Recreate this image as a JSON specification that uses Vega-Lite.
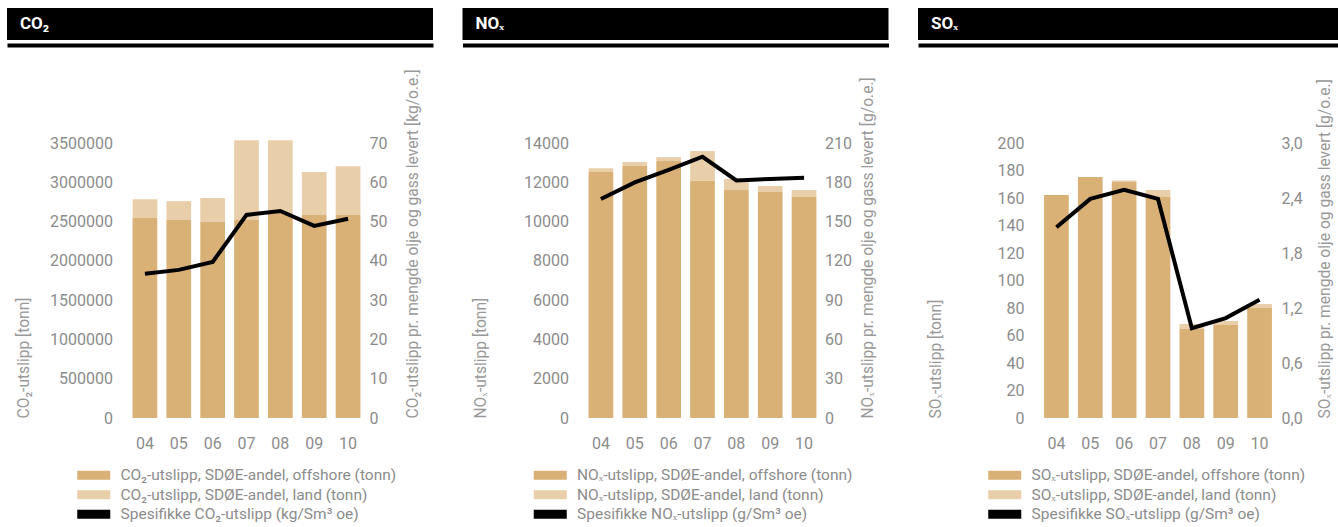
{
  "$schema": "https://vega.github.io/schema/vega-lite/v6.json",
  "padding": {"left": 7, "top": 8, "right": 0, "bottom": 0},
  "background": "white",
  "datasets": {
    "co2_utslipp": [
      {"år": "04", "serie": "CO₂-utslipp, SDØE-andel, offshore (tonn)", "tonn": 2545000},
      {"år": "05", "serie": "CO₂-utslipp, SDØE-andel, offshore (tonn)", "tonn": 2520000},
      {"år": "06", "serie": "CO₂-utslipp, SDØE-andel, offshore (tonn)", "tonn": 2495000},
      {"år": "07", "serie": "CO₂-utslipp, SDØE-andel, offshore (tonn)", "tonn": 2520000},
      {"år": "08", "serie": "CO₂-utslipp, SDØE-andel, offshore (tonn)", "tonn": 2610000},
      {"år": "09", "serie": "CO₂-utslipp, SDØE-andel, offshore (tonn)", "tonn": 2585000},
      {"år": "10", "serie": "CO₂-utslipp, SDØE-andel, offshore (tonn)", "tonn": 2585000},
      {"år": "04", "serie": "CO₂-utslipp, SDØE-andel, land (tonn)", "tonn": 240000},
      {"år": "05", "serie": "CO₂-utslipp, SDØE-andel, land (tonn)", "tonn": 240000},
      {"år": "06", "serie": "CO₂-utslipp, SDØE-andel, land (tonn)", "tonn": 305000},
      {"år": "07", "serie": "CO₂-utslipp, SDØE-andel, land (tonn)", "tonn": 1015000},
      {"år": "08", "serie": "CO₂-utslipp, SDØE-andel, land (tonn)", "tonn": 925000},
      {"år": "09", "serie": "CO₂-utslipp, SDØE-andel, land (tonn)", "tonn": 545000},
      {"år": "10", "serie": "CO₂-utslipp, SDØE-andel, land (tonn)", "tonn": 620000}
    ],
    "co2_spesifikk": [
      {"år": "04", "verdi": 36.7},
      {"år": "05", "verdi": 37.7},
      {"år": "06", "verdi": 39.7},
      {"år": "07", "verdi": 51.7},
      {"år": "08", "verdi": 52.7},
      {"år": "09", "verdi": 48.9},
      {"år": "10", "verdi": 50.7}
    ],
    "nox_utslipp": [
      {"år": "04", "serie": "NOₓ-utslipp, SDØE-andel, offshore (tonn)", "tonn": 12520},
      {"år": "05", "serie": "NOₓ-utslipp, SDØE-andel, offshore (tonn)", "tonn": 12830},
      {"år": "06", "serie": "NOₓ-utslipp, SDØE-andel, offshore (tonn)", "tonn": 13080},
      {"år": "07", "serie": "NOₓ-utslipp, SDØE-andel, offshore (tonn)", "tonn": 12070},
      {"år": "08", "serie": "NOₓ-utslipp, SDØE-andel, offshore (tonn)", "tonn": 11610},
      {"år": "09", "serie": "NOₓ-utslipp, SDØE-andel, offshore (tonn)", "tonn": 11500},
      {"år": "10", "serie": "NOₓ-utslipp, SDØE-andel, offshore (tonn)", "tonn": 11250},
      {"år": "04", "serie": "NOₓ-utslipp, SDØE-andel, land (tonn)", "tonn": 200},
      {"år": "05", "serie": "NOₓ-utslipp, SDØE-andel, land (tonn)", "tonn": 200},
      {"år": "06", "serie": "NOₓ-utslipp, SDØE-andel, land (tonn)", "tonn": 200},
      {"år": "07", "serie": "NOₓ-utslipp, SDØE-andel, land (tonn)", "tonn": 1520},
      {"år": "08", "serie": "NOₓ-utslipp, SDØE-andel, land (tonn)", "tonn": 560},
      {"år": "09", "serie": "NOₓ-utslipp, SDØE-andel, land (tonn)", "tonn": 310},
      {"år": "10", "serie": "NOₓ-utslipp, SDØE-andel, land (tonn)", "tonn": 360}
    ],
    "nox_spesifikk": [
      {"år": "04", "verdi": 167.2},
      {"år": "05", "verdi": 179.9},
      {"år": "06", "verdi": 189.5},
      {"år": "07", "verdi": 199.5},
      {"år": "08", "verdi": 181.4},
      {"år": "09", "verdi": 182.5},
      {"år": "10", "verdi": 183.5}
    ],
    "sox_utslipp": [
      {"år": "04", "serie": "SOₓ-utslipp, SDØE-andel, offshore (tonn)", "tonn": 162.2},
      {"år": "05", "serie": "SOₓ-utslipp, SDØE-andel, offshore (tonn)", "tonn": 175.3},
      {"år": "06", "serie": "SOₓ-utslipp, SDØE-andel, offshore (tonn)", "tonn": 171.6},
      {"år": "07", "serie": "SOₓ-utslipp, SDØE-andel, offshore (tonn)", "tonn": 160.7},
      {"år": "08", "serie": "SOₓ-utslipp, SDØE-andel, offshore (tonn)", "tonn": 64.7},
      {"år": "09", "serie": "SOₓ-utslipp, SDØE-andel, offshore (tonn)", "tonn": 67.6},
      {"år": "10", "serie": "SOₓ-utslipp, SDØE-andel, offshore (tonn)", "tonn": 80.0},
      {"år": "04", "serie": "SOₓ-utslipp, SDØE-andel, land (tonn)", "tonn": 0},
      {"år": "05", "serie": "SOₓ-utslipp, SDØE-andel, land (tonn)", "tonn": 0},
      {"år": "06", "serie": "SOₓ-utslipp, SDØE-andel, land (tonn)", "tonn": 1.2},
      {"år": "07", "serie": "SOₓ-utslipp, SDØE-andel, land (tonn)", "tonn": 5.1},
      {"år": "08", "serie": "SOₓ-utslipp, SDØE-andel, land (tonn)", "tonn": 3.7},
      {"år": "09", "serie": "SOₓ-utslipp, SDØE-andel, land (tonn)", "tonn": 2.9},
      {"år": "10", "serie": "SOₓ-utslipp, SDØE-andel, land (tonn)", "tonn": 2.9}
    ],
    "sox_spesifikk": [
      {"år": "04", "verdi": 2.08},
      {"år": "05", "verdi": 2.39},
      {"år": "06", "verdi": 2.49},
      {"år": "07", "verdi": 2.39},
      {"år": "08", "verdi": 0.98},
      {"år": "09", "verdi": 1.09},
      {"år": "10", "verdi": 1.29}
    ]
  },
  "columns": 3,
  "spacing": {"row": 103, "column": 29.5},
  "bounds": "flush",
  "resolve": {"scale": {"color": "independent", "x": "independent", "y": "independent"}},
  "concat": [
    {
      "width": 426, "height": 32,
      "view": {"fill": "black", "stroke": null},
      "data": {"values": [{"tittel": "CO₂"}]},
      "mark": {"type": "text", "color": "white", "fontSize": 17, "fontWeight": "bold", "align": "left", "baseline": "middle", "dx": 13},
      "encoding": {
        "text": {"field": "tittel"},
        "x": {"field": "tittel", "type": "nominal", "bandPosition": 0,
          "scale": {"type": "band", "paddingInner": 0, "paddingOuter": 0},
          "axis": {"orient": "bottom", "labels": false, "ticks": false, "grid": false, "title": null, "domain": true, "domainColor": "black", "domainWidth": 4, "offset": 5}}
      }
    },
    {
      "width": 426, "height": 32,
      "view": {"fill": "black", "stroke": null},
      "data": {"values": [{"tittel": "NOₓ"}]},
      "mark": {"type": "text", "color": "white", "fontSize": 17, "fontWeight": "bold", "align": "left", "baseline": "middle", "dx": 13},
      "encoding": {
        "text": {"field": "tittel"},
        "x": {"field": "tittel", "type": "nominal", "bandPosition": 0,
          "scale": {"type": "band", "paddingInner": 0, "paddingOuter": 0},
          "axis": {"orient": "bottom", "labels": false, "ticks": false, "grid": false, "title": null, "domain": true, "domainColor": "black", "domainWidth": 4, "offset": 5}}
      }
    },
    {
      "width": 426, "height": 32,
      "view": {"fill": "black", "stroke": null},
      "data": {"values": [{"tittel": "SOₓ"}]},
      "mark": {"type": "text", "color": "white", "fontSize": 17, "fontWeight": "bold", "align": "left", "baseline": "middle", "dx": 13},
      "encoding": {
        "text": {"field": "tittel"},
        "x": {"field": "tittel", "type": "nominal", "bandPosition": 0,
          "scale": {"type": "band", "paddingInner": 0, "paddingOuter": 0},
          "axis": {"orient": "bottom", "labels": false, "ticks": false, "grid": false, "title": null, "domain": true, "domainColor": "black", "domainWidth": 4, "offset": 5}}
      }
    },
    {
      "width": 426, "height": 275,
      "resolve": {"scale": {"y": "independent"}},
      "layer": [
        {
          "data": {"name": "co2_utslipp"},
          "mark": {"type": "bar"},
          "encoding": {
            "x": {"field": "år", "type": "nominal",
              "scale": {"paddingInner": 0.27, "paddingOuter": 0.135, "range": [121, 358]},
              "axis": {"orient": "bottom", "title": null, "ticks": false, "domain": false, "labelAngle": 0, "labelPadding": 17.5}},
            "y": {"field": "tonn", "type": "quantitative", "aggregate": "sum", "stack": "zero",
              "scale": {"domain": [0, 3500000], "nice": false},
              "axis": {"orient": "left", "offset": -107, "labelPadding": 1.5, "format": "d",
                "values": [0, 500000, 1000000, 1500000, 2000000, 2500000, 3000000, 3500000],
                "title": "CO₂-utslipp [tonn]", "titleX": -97.5, "titleY": 275, "titleAngle": -90, "titleAlign": "left", "titleBaseline": "top"}},
            "color": {"field": "serie", "type": "nominal",
              "scale": {"domain": ["CO₂-utslipp, SDØE-andel, offshore (tonn)", "CO₂-utslipp, SDØE-andel, land (tonn)", "Spesifikke CO₂-utslipp (kg/Sm³ oe)"],
                "range": ["#d9b177", "#e9cfa9", "#000000"]},
              "legend": {"orient": "none", "legendX": 79, "legendY": 324.5}},
            "order": {"field": "serie", "sort": "descending"}
          }
        },
        {
          "data": {"name": "co2_spesifikk"},
          "mark": {"type": "line", "color": "black", "strokeWidth": 4},
          "encoding": {
            "x": {"field": "år", "type": "nominal"},
            "y": {"field": "verdi", "type": "quantitative",
              "scale": {"domain": [0, 70], "nice": false},
              "axis": {"orient": "right", "offset": -65.5, "labelPadding": 1.5,
                "values": [0, 10, 20, 30, 40, 50, 60, 70],
                "title": "CO₂-utslipp pr. mengde olje og gass levert [kg/o.e.]", "titleX": 37.5, "titleY": 275, "titleAngle": -90, "titleAlign": "left", "titleBaseline": "top"}}
          }
        }
      ]
    },
    {
      "width": 426, "height": 275,
      "resolve": {"scale": {"y": "independent"}},
      "layer": [
        {
          "data": {"name": "nox_utslipp"},
          "mark": {"type": "bar"},
          "encoding": {
            "x": {"field": "år", "type": "nominal",
              "scale": {"paddingInner": 0.27, "paddingOuter": 0.135, "range": [121.5, 358.5]},
              "axis": {"orient": "bottom", "title": null, "ticks": false, "domain": false, "labelAngle": 0, "labelPadding": 17.5}},
            "y": {"field": "tonn", "type": "quantitative", "aggregate": "sum", "stack": "zero",
              "scale": {"domain": [0, 14000], "nice": false},
              "axis": {"orient": "left", "offset": -107.5, "labelPadding": 1.5, "format": "d",
                "values": [0, 2000, 4000, 6000, 8000, 10000, 12000, 14000],
                "title": "NOₓ-utslipp [tonn]", "titleX": -97, "titleY": 275, "titleAngle": -90, "titleAlign": "left", "titleBaseline": "top"}},
            "color": {"field": "serie", "type": "nominal",
              "scale": {"domain": ["NOₓ-utslipp, SDØE-andel, offshore (tonn)", "NOₓ-utslipp, SDØE-andel, land (tonn)", "Spesifikke NOₓ-utslipp (g/Sm³ oe)"],
                "range": ["#d9b177", "#e9cfa9", "#000000"]},
              "legend": {"orient": "none", "legendX": 80, "legendY": 324.5}},
            "order": {"field": "serie", "sort": "descending"}
          }
        },
        {
          "data": {"name": "nox_spesifikk"},
          "mark": {"type": "line", "color": "black", "strokeWidth": 4},
          "encoding": {
            "x": {"field": "år", "type": "nominal"},
            "y": {"field": "verdi", "type": "quantitative",
              "scale": {"domain": [0, 210], "nice": false},
              "axis": {"orient": "right", "offset": -65.5, "labelPadding": 1.5,
                "values": [0, 30, 60, 90, 120, 150, 180, 210],
                "title": "NOₓ-utslipp pr. mengde olje og gass levert [g/o.e.]", "titleX": 37.5, "titleY": 275, "titleAngle": -90, "titleAlign": "left", "titleBaseline": "top"}}
          }
        }
      ]
    },
    {
      "width": 426, "height": 275,
      "resolve": {"scale": {"y": "independent"}},
      "layer": [
        {
          "data": {"name": "sox_utslipp"},
          "mark": {"type": "bar"},
          "encoding": {
            "x": {"field": "år", "type": "nominal",
              "scale": {"paddingInner": 0.27, "paddingOuter": 0.135, "range": [121.5, 358.5]},
              "axis": {"orient": "bottom", "title": null, "ticks": false, "domain": false, "labelAngle": 0, "labelPadding": 17.5}},
            "y": {"field": "tonn", "type": "quantitative", "aggregate": "sum", "stack": "zero",
              "scale": {"domain": [0, 200], "nice": false},
              "axis": {"orient": "left", "offset": -107.5, "labelPadding": 1.5, "format": "d",
                "values": [0, 20, 40, 60, 80, 100, 120, 140, 160, 180, 200],
                "title": "SOₓ-utslipp [tonn]", "titleX": -97.5, "titleY": 275, "titleAngle": -90, "titleAlign": "left", "titleBaseline": "top"}},
            "color": {"field": "serie", "type": "nominal",
              "scale": {"domain": ["SOₓ-utslipp, SDØE-andel, offshore (tonn)", "SOₓ-utslipp, SDØE-andel, land (tonn)", "Spesifikke SOₓ-utslipp (g/Sm³ oe)"],
                "range": ["#d9b177", "#e9cfa9", "#000000"]},
              "legend": {"orient": "none", "legendX": 79, "legendY": 324.5}},
            "order": {"field": "serie", "sort": "descending"}
          }
        },
        {
          "data": {"name": "sox_spesifikk"},
          "mark": {"type": "line", "color": "black", "strokeWidth": 4},
          "encoding": {
            "x": {"field": "år", "type": "nominal"},
            "y": {"field": "verdi", "type": "quantitative",
              "scale": {"domain": [0, 3], "nice": false},
              "axis": {"orient": "right", "offset": -64.5, "labelPadding": 1.5,
                "values": [0, 0.6, 1.2, 1.8, 2.4, 3.0],
                "labelExpr": "replace(format(datum.value, '.1f'), '.', ',')",
                "title": "SOₓ-utslipp pr. mengde olje og gass levert [g/o.e.]", "titleX": 37.5, "titleY": 275, "titleAngle": -90, "titleAlign": "left", "titleBaseline": "top"}}
          }
        }
      ]
    }
  ],
  "config": {
    "font": "Roboto",
    "view": {"stroke": null},
    "bar": {"stroke": null},
    "axis": {
      "grid": false, "domain": false, "ticks": false,
      "labelFont": "Roboto", "labelFontSize": 16, "labelColor": "#8c8c8c",
      "titleFont": "Roboto", "titleFontSize": 15.6, "titleFontWeight": "normal", "titleColor": "#999999"
    },
    "legend": {
      "title": null,
      "symbolType": "M-3.667,-1L3.667,-1L3.667,1L-3.667,1Z",
      "symbolSize": 81,
      "symbolStrokeWidth": 0,
      "symbolOpacity": 1,
      "labelFont": "Roboto", "labelFontSize": 15.5, "labelColor": "#8c8c8c",
      "labelOffset": 19, "rowPadding": 2.5, "padding": 0, "labelLimit": 400
    }
  }
}
